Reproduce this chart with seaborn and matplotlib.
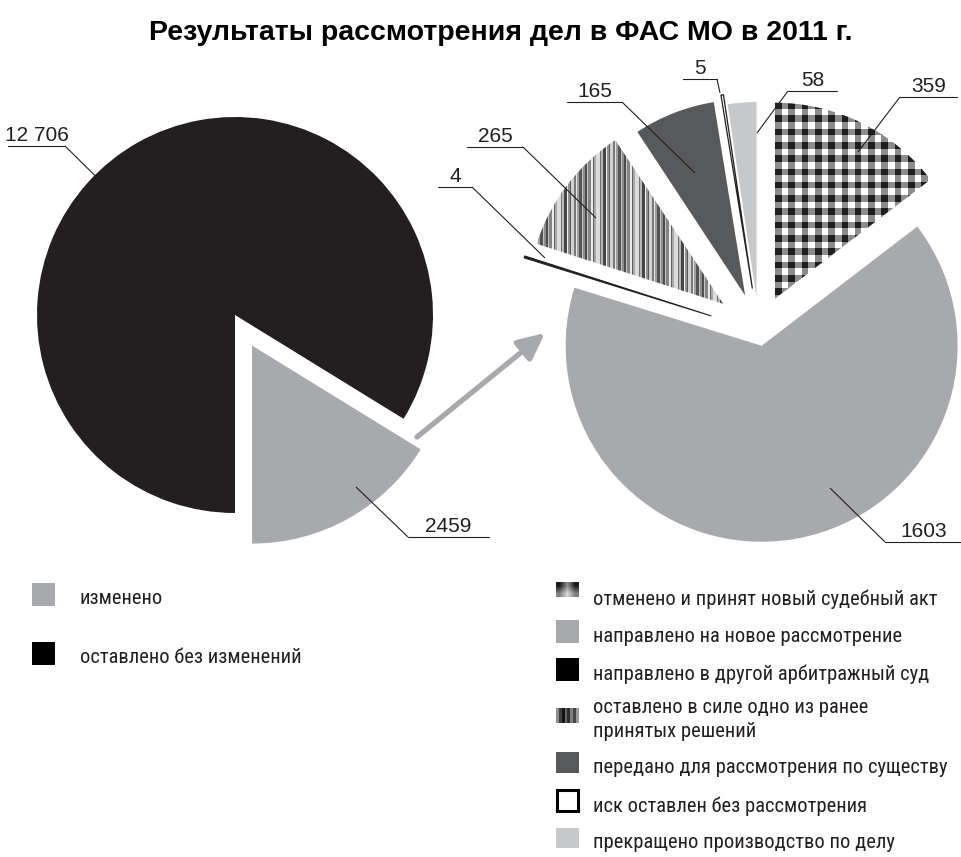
import numpy as np
import matplotlib
matplotlib.use("Agg")
import matplotlib.pyplot as plt
import seaborn as sns
from matplotlib.patches import Rectangle

# ---- data ----
title = "Результаты рассмотрения дел в ФАС МО в 2011 г."

total_labels = ["изменено", "оставлено без изменений"]
total_values = [2459, 12706]

changed_labels = [
    "отменено и принят новый судебный акт",
    "направлено на новое рассмотрение",
    "направлено в другой арбитражный суд",
    "оставлено в силе одно из ранее\nпринятых решений",
    "передано для рассмотрения по существу",
    "иск оставлен без рассмотрения",
    "прекращено производство по делу",
]
changed_values = [359, 1603, 4, 265, 165, 5, 58]

# ---- style ----
sns.set_theme(style="white")
plt.rcParams["font.family"] = ["Liberation Sans", "DejaVu Sans"]
LEGEND_FONT = ["Roboto Condensed", "Liberation Sans", "DejaVu Sans"]
LEGEND_SIZE = 14.8

W, H = 962, 857
INK = "#231f20"
GRAY = "#a7a9ac"
DARK = "#58595b"
LIGHT = "#c7c8ca"


def fy(y):
    """Convert a top-down pixel row to the axes' bottom-up data y."""
    return H - y


def fmt(v):
    return f"{v:,}".replace(",", " ") if v >= 10000 else str(v)


fig = plt.figure(figsize=(W / 100, H / 100), dpi=100)
ax = fig.add_axes([0, 0, 1, 1])

# ---- left pie: all cases ----
left_wedges, _ = ax.pie(
    total_values, colors=[GRAY, INK], startangle=-90, counterclock=True,
    explode=[35, 0], radius=198, center=(235, fy(315)),
    wedgeprops=dict(linewidth=0),
)

# ---- right pie: breakdown of changed decisions ----
right_colors = ["white", GRAY, INK, "white", DARK, "white", LIGHT]
right_wedges, _ = ax.pie(
    changed_values, colors=right_colors, startangle=90, counterclock=False,
    explode=[36, 15, 50, 45, 38, 43, 33], radius=196, center=(759, fy(331)),
    wedgeprops=dict(linewidth=0),
)
right_wedges[2].set(edgecolor=INK, linewidth=0.8)
right_wedges[5].set(edgecolor=INK, linewidth=0.9)

# textures: gingham check and irregular vertical stripes
yy, xx = np.mgrid[0:H, 0:W] + 0.5
col_dark = ((xx - 775) % 13.3) < 6.65
row_dark = ((yy - 102) % 13.3) < 6.65
gingham = np.where(col_dark & row_dark, 0.12,
                   np.where(col_dark | row_dark, 0.55, 1.0))
im = ax.imshow(gingham, extent=(0, W, 0, H), origin="upper", cmap="gray",
               vmin=0, vmax=1, interpolation="nearest", zorder=2)
im.set_clip_path(right_wedges[0])

tones = [0.30, 0.78, 0.52, 0.92, 0.38, 0.66, 0.86, 0.44, 0.72, 0.27,
         0.95, 0.58, 0.35, 0.82, 0.48, 0.90, 0.62, 0.33, 0.76, 0.55]
widths = [2, 1, 3, 2, 1, 2, 4, 1, 2, 3, 1, 2, 1, 3, 2, 1, 2, 3, 1, 2]
row = np.concatenate([np.full(w, t) for t, w in zip(tones, widths)])
row = np.resize(row, W)
stripes = np.tile(row, (H, 1))
im2 = ax.imshow(stripes, extent=(0, W, 0, H), origin="upper", cmap="gray",
                vmin=0, vmax=1, interpolation="nearest", zorder=2)
im2.set_clip_path(right_wedges[3])

# ---- value labels with leader lines ----
# (anchor inside slice, underline x0, x1, y, side where the leader joins)
total_leaders = [
    ((356, 487), (408, 489, 537), "left"),
    ((137, 217), (8, 65, 146), "right"),
]
changed_leaders = [
    ((858, 152), (900, 957, 97), "left"),
    ((830, 488), (885, 962, 542), "left"),
    ((545, 258), (438, 472, 187), "right"),
    ((596, 218), (467, 523, 147), "right"),
    ((695, 173), (567, 622, 102), "right"),
    ((720, 93), (683, 717, 79), "right"),
    ((757, 133), (788, 837, 91), "left"),
]

for values, leaders in ((total_values, total_leaders),
                        (changed_values, changed_leaders)):
    for v, (anchor, (u0, u1, uy), side) in zip(values, leaders):
        jx = u0 if side == "left" else u1
        ax.plot([anchor[0], jx], [fy(anchor[1]), fy(uy)], color=INK,
                lw=0.8, zorder=4, solid_capstyle="butt")
        ax.plot([u0, u1], [fy(uy), fy(uy)], color=INK, lw=0.8, zorder=4)
        ax.text((u0 + u1) / 2, fy(uy - 5), fmt(v), ha="center",
                va="baseline", fontsize=15, color=INK, zorder=5)

# arrow from the changed slice to its breakdown
ax.annotate("", xy=(545, fy(333)), xytext=(417, fy(437)),
            arrowprops=dict(arrowstyle="-|>,head_length=0.8,head_width=0.38",
                            color=GRAY, lw=3.8, mutation_scale=20,
                            shrinkA=0, shrinkB=0))

# ---- legends ----
left_tops = [583, 642]
left_base = [604, 663]
for lab, col, top, base in zip(total_labels, [GRAY, "black"], left_tops, left_base):
    ax.add_patch(Rectangle((32, fy(top + 23)), 23, 23, facecolor=col,
                           edgecolor="none", zorder=3))
    ax.text(80, fy(base), lab, family=LEGEND_FONT, fontsize=LEGEND_SIZE,
            color=INK, va="baseline", ha="left")

icon_tops = [582, 620, 658, 708, 752, 789, 828]
icon_h = [15, 23, 23, 15, 21, 23, 20]
text_base = [605, 642, 680, 713, 773, 812, 848]
icon_x, icon_w = 556, 23

for i, (lab, top, hgt, base) in enumerate(zip(changed_labels, icon_tops,
                                               icon_h, text_base)):
    ext = (icon_x, icon_x + icon_w, fy(top + hgt), fy(top))
    if i == 0:
        ax.imshow([[0.10, 0.55, 0.10], [0.50, 0.85, 0.50]], extent=ext,
                  cmap="gray", vmin=0, vmax=1, interpolation="bilinear",
                  zorder=3)
    elif i == 3:
        ax.imshow([[0.55, 0.25, 0.08, 0.40, 0.18, 0.50, 0.28, 0.60]],
                  extent=ext, cmap="gray", vmin=0, vmax=1,
                  interpolation="nearest", zorder=3)
    elif i == 5:
        ax.add_patch(Rectangle((icon_x + 1, fy(top + hgt - 1)), icon_w - 2,
                               hgt - 2, facecolor="white", edgecolor="black",
                               lw=2.2, zorder=3))
    else:
        ax.add_patch(Rectangle((icon_x, fy(top + hgt)), icon_w, hgt,
                               facecolor=right_colors[i] if i != 2 else "black",
                               edgecolor="none", zorder=3))
    for k, line in enumerate(lab.split("\n")):
        ax.text(593, fy(base + 24 * k), line, family=LEGEND_FONT,
                fontsize=LEGEND_SIZE, color=INK, va="baseline", ha="left")

fig.text(501 / W, 1 - 33 / H, title, ha="center", va="center",
         fontsize=20.5, fontweight="bold", color="black")

ax.set_xlim(0, W)
ax.set_ylim(0, H)
ax.set_aspect("equal")
ax.axis("off")

fig.savefig("out.png", dpi=100)
